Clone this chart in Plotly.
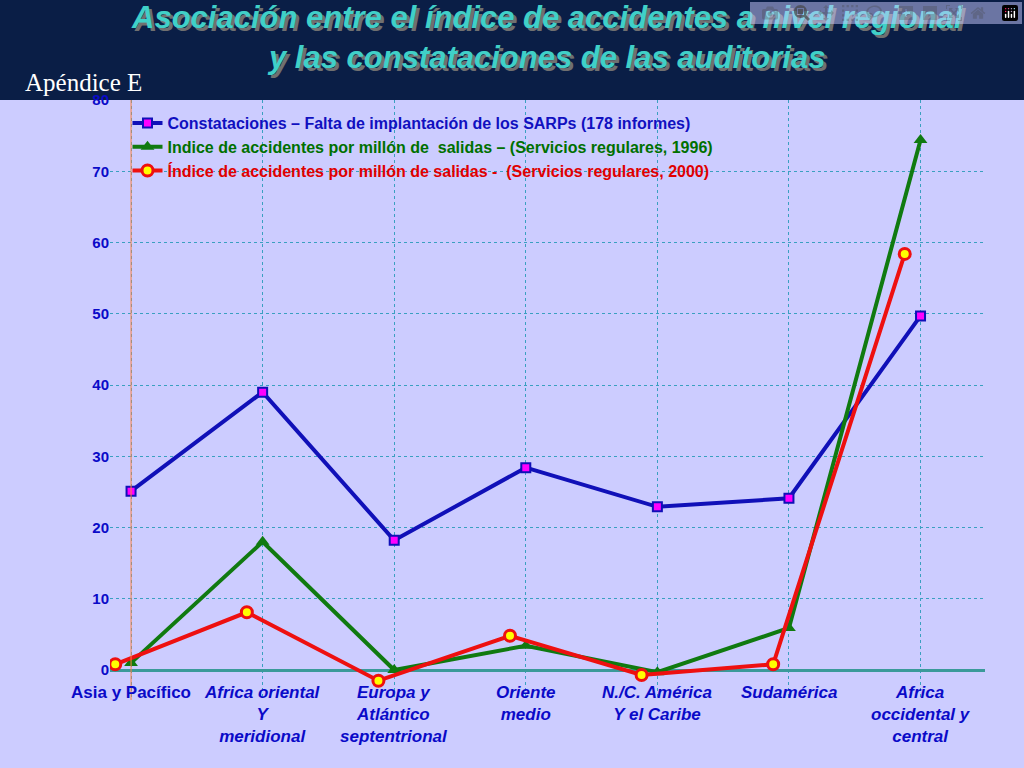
import plotly.graph_objects as go

categories = ["Asia y Pacífico", "Africa oriental<br>Y<br>meridional", "Europa y<br>Atlántico<br>septentrional",
              "Oriente<br>medio", "N./C. América<br>Y el Caribe", "Sudamérica", "Africa<br>occidental y<br>central"]
constataciones = [25.1, 39.0, 18.2, 28.4, 22.9, 24.1, 49.7]
indice_1996 = [1.0, 18.0, 0.0, 3.4, -0.3, 5.9, 74.4]
indice_2000 = [0.8, 8.1, -1.5, 4.8, -0.7, 0.8, 58.4]
yticks = [0, 10, 20, 30, 40, 50, 60, 70, 80]

xi = list(range(len(categories)))
shift = -0.12
fig = go.Figure()
fig.add_trace(go.Scatter(x=xi, y=constataciones, mode="lines+markers",
    name='<span style="color:#1010c0">Constataciones – Falta de implantación de los SARPs (178 informes)</span>',
    line=dict(color="#1010b8", width=4),
    marker=dict(symbol="square", size=9, color="#ff00ff", line=dict(color="#1010b8", width=2))))
fig.add_trace(go.Scatter(x=xi, y=indice_1996, mode="lines+markers",
    name='<span style="color:#007000">Indice de accidentes por millón de  salidas – (Servicios regulares, 1996)</span>',
    line=dict(color="#107a10", width=4),
    marker=dict(symbol="triangle-up", size=12, color="#107a10")))
fig.add_trace(go.Scatter(x=[v + shift for v in xi], y=indice_2000, mode="lines+markers",
    name='<span style="color:#e00000">Índice de accidentes por millón de salidas -  (Servicios regulares, 2000)</span>',
    line=dict(color="#ee1010", width=4),
    marker=dict(symbol="circle", size=11, color="#ffff00", line=dict(color="#ee1010", width=3))))

for i, c in enumerate(categories):
    fig.add_annotation(x=i, y=-1.6, xref="x", yref="y", yanchor="top", text=c, showarrow=False,
        font=dict(family="Liberation Sans Narrow, Arial Narrow, Liberation Sans", size=17, color="#0a0ac8",
                  style="normal" if i == 0 else "italic", weight="bold"))

fig.add_shape(type="rect", xref="paper", yref="paper", x0=-0.3, x1=1.3, y0=1.0, y1=1.6,
    fillcolor="#0a1e46", line=dict(width=0), layer="below")
fig.add_vline(x=0, line=dict(color="#ff8040", width=1))

title1 = "Asociación entre el índice de accidentes a nivel regional<br>y las constataciones de las auditorias"
tfont = dict(family="Liberation Sans, Arial", size=31, style="italic", weight="bold")
fig.add_annotation(x=0.5, y=1.17, xref="paper", yref="paper", xshift=3, yshift=-3, yanchor="top", text=title1,
    showarrow=False, font=dict(color="#707070", **tfont))
fig.add_annotation(x=0.5, y=1.17, xref="paper", yref="paper", yanchor="top", text=title1,
    showarrow=False, font=dict(color="#40d0c8", **tfont))
fig.add_annotation(x=-0.1, y=1.055, xref="paper", yref="paper", text="Apéndice E", showarrow=False,
    xanchor="left", font=dict(family="Liberation Serif, Times New Roman", size=25, color="white"))

fig.update_layout(
    width=1024, height=768, paper_bgcolor="#ccccff", plot_bgcolor="#ccccff",
    margin=dict(l=110, r=39, t=100, b=68),
    showlegend=True,
    legend=dict(x=0.02, y=0.99, xanchor="left", yanchor="top", bgcolor="rgba(0,0,0,0)",
                font=dict(family="Liberation Sans, Arial", size=16, weight="bold"), tracegroupgap=12),
    xaxis=dict(range=[-0.16, 6.49], showticklabels=False, showgrid=True, gridcolor="#3aa0c0",
               griddash="dot", zeroline=False, tickvals=xi),
    yaxis=dict(range=[-4.21, 80], tickvals=yticks, showgrid=True, gridcolor="#3aa0c0", griddash="dot",
               zeroline=True, zerolinecolor="#3a9a9a", zerolinewidth=3,
               tickfont=dict(family="Liberation Sans, Arial", size=15, color="#0a0ac8", weight="bold")),
)
fig.write_html("out.html")
with open("out.html", encoding="utf-8") as f:
    html = f.read()
html = html.replace("<head>", "<head><style>body{margin:0;padding:0;overflow:hidden;}</style>", 1)
with open("out.html", "w", encoding="utf-8") as f:
    f.write(html)
